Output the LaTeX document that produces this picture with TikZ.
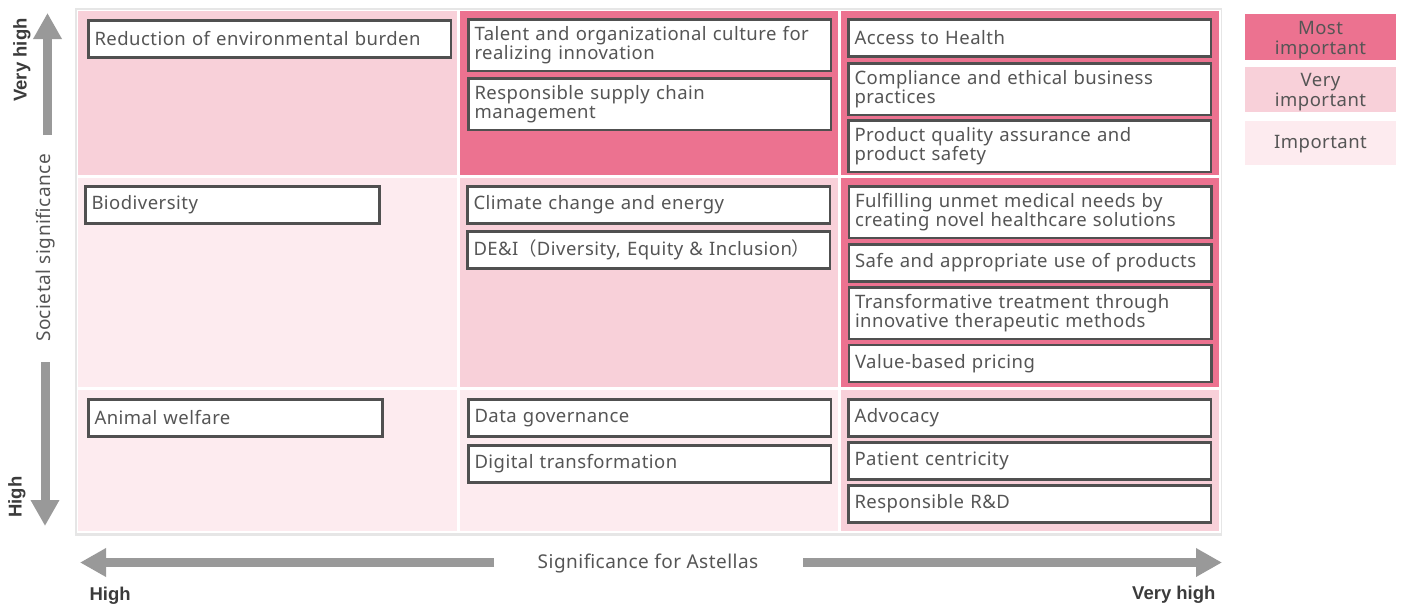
\documentclass[tikz,border=0pt]{standalone}
\usepackage{fontspec}
\setmainfont{Noto Sans}[LetterSpace=2.5]
\newfontfamily\cjk{Noto Sans CJK JP}
\newfontfamily\axisfont{Liberation Sans}
\usetikzlibrary{arrows.meta}

\definecolor{mostimp}{HTML}{EC7290}
\definecolor{veryimp}{HTML}{F8D0D9}
\definecolor{imp}{HTML}{FDEBEF}
\definecolor{boxline}{HTML}{505050}
\definecolor{txt}{HTML}{555555}
\definecolor{axisgray}{HTML}{999999}
\definecolor{framegray}{HTML}{E6E6E6}

\tikzset{
  issue/.style={draw=boxline, line width=2.5pt, fill=white, text=txt, anchor=north west,
    align=left, inner xsep=6pt, inner ysep=0pt, font=\fontsize{18.5}{19.5}\selectfont},
  wide/.style={text width=350.5pt},
  narrow/.style={text width=282pt},
  onerow/.style={minimum height=37pt},
  tworow/.style={minimum height=51.5pt},
  legend/.style={align=center, inner sep=0pt, text=txt, font=\fontsize{18.5}{19.5}\selectfont},
  axislabel/.style={text=txt, font=\fontsize{19}{20}\selectfont},
  axisend/.style={text=txt!70!black, font=\fontsize{18.5}{20}\axisfont\bfseries},
  axisarrow/.style={draw=axisgray, line width=9pt, -{Triangle[width=27pt,length=26pt]}}
}

\begin{document}
\begin{tikzpicture}[x=1pt, y=-1pt]
    \useasboundingbox (0,0) rectangle (1402,603);

    % frame of the matrix
    \fill[framegray] (75,8) rectangle (1222,536);
    \fill[white] (76.5,9.5) rectangle (1220.5,532.5);

    % cells: columns = significance for Astellas, rows = societal significance
    \fill[veryimp] (78,11) rectangle (457,175);
    \fill[mostimp] (460,11) rectangle (838,175);
    \fill[mostimp] (841,11) rectangle (1219,175);
    \fill[imp]     (78,178) rectangle (457,387);
    \fill[veryimp] (460,178) rectangle (838,387);
    \fill[mostimp] (841,178) rectangle (1219,387);
    \fill[imp]     (78,390) rectangle (457,531);
    \fill[imp]     (460,390) rectangle (838,531);
    \fill[veryimp] (841,390) rectangle (1219,531);

    % top row
    \node[issue, wide, onerow] (envburden) at (87.25,19.25) {Reduction of environmental burden};
    \node[issue, wide, tworow] (talent) at (467.25,18.25) {Talent and organizational culture for\\realizing innovation};
    \node[issue, wide, tworow] (supply) at (467.25,77.25) {Responsible supply chain\\management};
    \node[issue, wide, onerow] (access) at (847.25,18.25) {Access to Health};
    \node[issue, wide, tworow] (ethics) at (847.25,62.25) {Compliance and ethical business\\practices};
    \node[issue, wide, tworow] (quality) at (847.25,119.25) {Product quality assurance and\\product safety};

    % middle row
    \node[issue, narrow, onerow] (biodiv) at (84.25,185.25) {Biodiversity};
    \node[issue, wide, onerow] (climate) at (466.25,185.25) {Climate change and energy};
    \node[issue, wide, onerow] (dei) at (466.25,230.25) {DE\&I{\cjk （}Diversity, Equity \& Inclusion{\cjk ）}};
    \node[issue, wide, tworow] (unmet) at (847.75,185.25) {Fulfilling unmet medical needs by\\creating novel healthcare solutions};
    \node[issue, wide, onerow] (safeuse) at (847.75,243.25) {Safe and appropriate use of products};
    \node[issue, wide, tworow] (therapy) at (847.75,286.25) {Transformative treatment through\\innovative therapeutic methods};
    \node[issue, wide, onerow] (pricing) at (847.75,343.75) {Value-based pricing};

    % bottom row
    \node[issue, narrow, onerow] (animal) at (87.25,398.25) {Animal welfare};
    \node[issue, wide, onerow] (datagov) at (467.25,398.25) {Data governance};
    \node[issue, wide, onerow] (digital) at (467.25,444.25) {Digital transformation};
    \node[issue, wide, onerow] (advocacy) at (847.25,398.25) {Advocacy};
    \node[issue, wide, onerow] (patient) at (847.25,441.25) {Patient centricity};
    \node[issue, wide, onerow] (rnd) at (847.25,484.25) {Responsible R\&D};

    % legend
    \fill[mostimp] (1245,14) rectangle (1396,60);
    \fill[veryimp] (1245,67) rectangle (1396,112);
    \fill[imp] (1245,121) rectangle (1396,165);
    \node[legend] (lgmost) at (1320.5,40) {Most\\important};
    \node[legend] (lgvery) at (1320.5,92) {Very\\important};
    \node[legend] (lgimp) at (1320.5,144) {Important};

    % vertical axis
    \node[axislabel, rotate=90] (societal) at (46,248) {Societal significance};
    \node[axisend, rotate=90] (vhighup) at (22,60) {Very high};
    \node[axisend, rotate=90] (highdown) at (17,497) {High};
    \coordinate (uptail) at (47.5,135);
    \coordinate (uptip) at (47.5,13);
    \coordinate (downtail) at (45,362);
    \coordinate (downtip) at (45,526);
    \draw[axisarrow] (uptail) -- (uptip);
    \draw[axisarrow] (downtail) -- (downtip);

    % horizontal axis
    \node[axislabel] (astellas) at (648,564) {Significance for Astellas};
    \node[axisend, anchor=west] (highleft) at (86,596) {High};
    \node[axisend, anchor=east] (vhighright) at (1219,595) {Very high};
    \coordinate (lefttail) at (494,562.5);
    \coordinate (lefttip) at (80,562.5);
    \coordinate (righttail) at (803,562.5);
    \coordinate (righttip) at (1222,562.5);
    \draw[axisarrow] (lefttail) -- (lefttip);
    \draw[axisarrow] (righttail) -- (righttip);
\end{tikzpicture}
\end{document}
